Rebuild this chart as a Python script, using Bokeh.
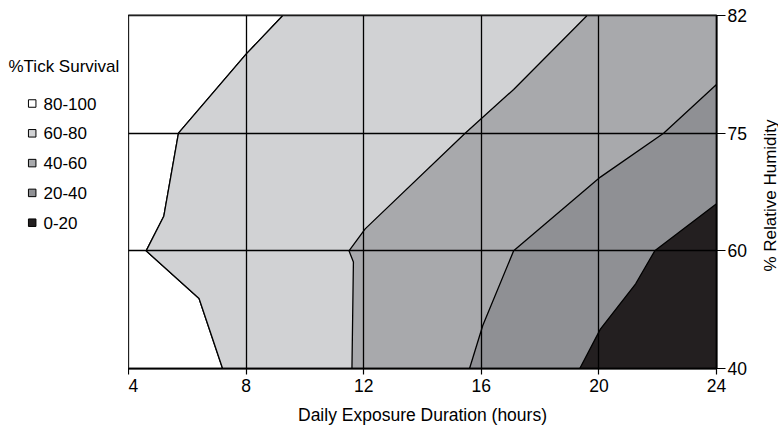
import math
import numpy as np
from bokeh.plotting import figure
from bokeh.layouts import row
from bokeh.models import Range1d, FixedTicker
from bokeh.core.properties import value
from bokeh.embed import file_html
from bokeh.resources import INLINE

# ---------------- data ----------------
hours_ticks = [4, 8, 12, 16, 20, 24]
rh_levels = [40, 60, 75, 82]
survival_classes = ["80-100", "60-80", "40-60", "20-40", "0-20"]
class_colors = ["#ffffff", "#d1d2d4", "#a8a9ac", "#8f9094", "#231f20"]
legend_title = "%Tick Survival"
x_title = "Daily Exposure Duration (hours)"
y_title = "% Relative Humidity"

# contour boundaries (hours, % relative humidity), bottom to top
b1_hours = [7.2, 6.4, 4.6, 5.2, 5.7, 8.0, 9.25]
b1_rh = [40, 51.9, 60, 64.4, 75, 79.7, 82]
b2_hours = [11.6, 11.65, 11.5, 12.05, 15.45, 17.1, 19.6]
b2_rh = [40, 58.1, 60, 62.8, 75, 77.6, 82]
b3_hours = [15.6, 16.05, 17.1, 20.05, 22.2, 24]
b3_rh = [40, 47.3, 60, 69.4, 75, 77.9]
b4_hours = [19.35, 20.05, 21.25, 21.9, 24]
b4_rh = [40, 46.7, 54.4, 60, 66]

FONT = "Liberation Sans, Arial, sans-serif"

# humidity axis is drawn with evenly spaced levels
level_pos = list(range(len(rh_levels)))


def ypos(rh):
    return list(np.interp(rh, rh_levels, level_pos))


xmin, xmax = hours_ticks[0], hours_ticks[-1]
ymin, ymax = level_pos[0], level_pos[-1]

H = 429
TOP, BOTTOM = 15, 61           # frame borders (px)
LW, RW = 128, 16               # side panels (px)
FRAME_TOP, FRAME_BOT = TOP, H - BOTTOM


def side_panel(w):
    f = figure(width=w, height=H, x_range=Range1d(0, w), y_range=Range1d(FRAME_BOT, FRAME_TOP),
               output_backend="svg", toolbar_location=None,
               min_border_left=0, min_border_right=0, min_border_top=TOP, min_border_bottom=BOTTOM)
    f.axis.visible = False
    f.grid.visible = False
    f.outline_line_color = None
    f.background_fill_color = "white"
    f.border_fill_color = "white"
    return f


# ---------------- legend panel (y in page pixels) ----------------
lg = side_panel(LW)
item_y = [103 + 29.8 * i for i in range(len(survival_classes))]
lg.text(x=[8], y=[66], text=[legend_title], text_font=value(FONT), text_font_size="17px",
        text_baseline="middle", text_align="left", text_color="black")
lg.rect(x=[31.7] * len(item_y), y=item_y, width=7.5, height=7.5,
        width_units="screen", height_units="screen",
        fill_color=class_colors, line_color="black", line_width=1)
lg.text(x=[43] * len(item_y), y=item_y, text=survival_classes, text_font=value(FONT),
        text_font_size="17px", text_baseline="middle", text_align="left", text_color="black")

# ---------------- right title panel ----------------
rl = side_panel(RW)
rl.text(x=[7.5], y=[195], text=[y_title], angle=math.pi / 2, text_font=value(FONT),
        text_font_size="17px", text_baseline="middle", text_align="center", text_color="black")

# ---------------- main plot ----------------
p = figure(width=778 - LW - RW, height=H, x_range=Range1d(xmin, xmax), y_range=Range1d(ymin, ymax),
           y_axis_location="right", output_backend="svg", toolbar_location=None,
           min_border_left=0, min_border_right=778 - LW - RW - 588, min_border_top=TOP,
           min_border_bottom=BOTTOM)
p.background_fill_color = "white"
p.border_fill_color = "white"
p.outline_line_color = "black"
p.outline_line_width = 2

polys = [
    ([xmin] + b1_hours + [xmin], [ymin] + ypos(b1_rh) + [ymax]),
    (b1_hours + [xmax, xmax], ypos(b1_rh) + [ymax, ymin]),
    (b2_hours + [xmax, xmax], ypos(b2_rh) + [ymax, ymin]),
    (b3_hours + [xmax], ypos(b3_rh) + [ymin]),
    (b4_hours + [xmax], ypos(b4_rh) + [ymin]),
]

for (xs, ys), col in zip(polys, class_colors):
    p.patch(xs, ys, fill_color=col, line_color="black", line_width=1.3)

# grid on top
for g in (p.xgrid, p.ygrid):
    g.grid_line_color = "black"
    g.grid_line_width = 1.3
    g.level = "overlay"
p.xgrid.ticker = FixedTicker(ticks=hours_ticks)
p.ygrid.ticker = FixedTicker(ticks=level_pos)

# axes
xa = p.xaxis[0]
xa.ticker = FixedTicker(ticks=hours_ticks)
xa.axis_label = x_title
ya = p.yaxis[0]
ya.ticker = FixedTicker(ticks=level_pos)
ya.major_label_overrides = {i: str(v) for i, v in zip(level_pos, rh_levels)}
for ax in (xa, ya):
    ax.axis_line_color = "black"
    ax.axis_line_width = 1.5
    ax.major_tick_line_color = "black"
    ax.major_tick_line_width = 1.2
    ax.major_tick_in = 0
    ax.minor_tick_line_color = None
    ax.major_label_text_font = FONT
    ax.major_label_text_font_size = "17.5px"
    ax.major_label_text_color = "black"
    ax.axis_label_text_font = FONT
    ax.axis_label_text_font_size = "17.5px"
    ax.axis_label_text_font_style = "normal"
    ax.axis_label_text_color = "black"
xa.major_tick_out = 6
xa.major_label_standoff = 4
xa.axis_label_standoff = 10
ya.major_tick_out = 9
ya.major_label_standoff = 2

layout = row(lg, p, rl, spacing=0)
open("out.html", "w").write(file_html(layout, INLINE))
